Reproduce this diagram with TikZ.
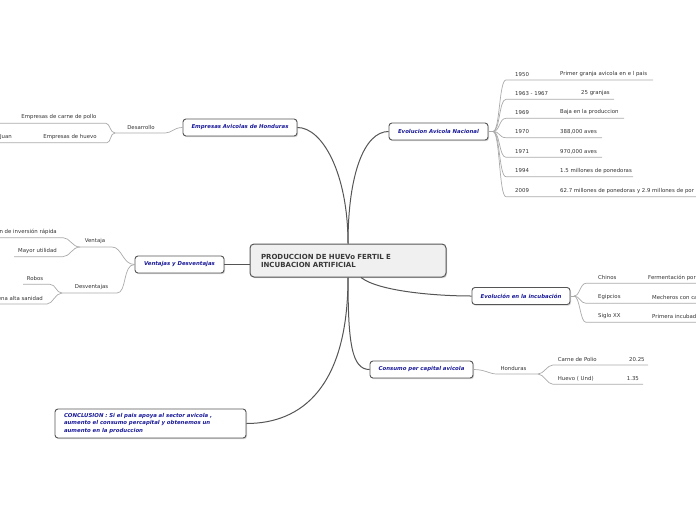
\documentclass[tikz,border=0pt]{standalone}
\usepackage{fontspec}
\setmainfont{DejaVu Sans}
\usetikzlibrary{shadows}
\definecolor{topicblue}{HTML}{1A1A99}
\definecolor{linkgray}{HTML}{555555}
\definecolor{subgray}{HTML}{AAAAAA}
\tikzset{
    central/.style={ % central idea
        draw=linkgray, line width=1pt, rounded corners=4pt,
        fill=gray!12, text=black!78,
        minimum width=196pt, minimum height=33pt,
        inner xsep=11pt, text width=174pt, align=left,
        font=\fontsize{7}{8}\selectfont\bfseries,
        drop shadow={shadow xshift=1pt, shadow yshift=-1.2pt, opacity=0.35}
    },
    topic/.style={ % main topics
        draw=linkgray, line width=0.9pt, rounded corners=3pt,
        fill=white, text=topicblue, minimum height=17pt, inner sep=2pt,
        font=\fontsize{5.4}{7.5}\selectfont\bfseries\itshape,
        drop shadow={shadow xshift=1pt, shadow yshift=-1.2pt, opacity=0.35}
    },
    leaf/.style={inner sep=0pt, text=black!80, font=\fontsize{5.4}{6.5}\selectfont},
    main link/.style={draw=linkgray, line width=1pt},
    sub link/.style={draw=subgray, line width=0.7pt}
}

\begin{document}
\begin{tikzpicture}[x=1pt,y=-1pt]
    \useasboundingbox (0,0) rectangle (696,520);

    % central idea and main topics
    \node[central] (cen) at (348,260.5) {PRODUCCION DE HUEVo FERTIL E\\INCUBACION ARTIFICIAL};
    \node[topic, minimum width=114pt] (emp) at (240,127.5) {Empresas Avicolas de Honduras};
    \node[topic, minimum width=99pt] (evo) at (438.5,131.5) {Evolucion Avicola Nacional};
    \node[topic, minimum width=89pt] (ven) at (179.5,264.5) {Ventajas y Desventajas};
    \node[topic, minimum width=98pt] (inc) at (521,296) {Evolución en la incubación};
    \node[topic, minimum width=103pt] (con) at (421.5,369.5) {Consumo per capital avicola};
    \node[topic, minimum width=191pt, minimum height=29pt, inner xsep=9pt,
          text width=173pt, align=left] (concl) at (150.5,423.5)
          {CONCLUSION : Si el pais apoya al sector avicola ,\\aumento el consumo percapital y obtenemos un\\aumento en la produccion};

    \draw[main link] (cen.north) .. controls +(0,-70) and +(25,0) .. (emp.east);
    \draw[main link] (cen.north) .. controls +(0,-70) and +(-24,0) .. (evo.west);
    \draw[main link] (ven.east) -- (ven.east -| cen.west);
    \draw[main link] ([xshift=13pt]cen.south) .. controls +(18,14) and +(-35,0) .. (inc.west);
    \draw[main link] (cen.south) .. controls +(0,65) and +(-18,0) .. (con.west);
    \draw[main link] (cen.south) .. controls +(0,110) and +(55,0) .. (concl.east);

    % Empresas Avicolas de Honduras
    \coordinate (des-r) at (165,133);
    \coordinate (des-l) at (115,133);
    \coordinate (carne) at (106,123.3);
    \coordinate (huevo) at (107,142.7);
    \draw[sub link] (emp.west) .. controls +(-9,0) and +(7,0) .. (des-r) -- (des-l);
    \draw[sub link] (des-l) .. controls +(-5,0) and +(4,0) .. (carne) -- (-5,123.3);
    \draw[sub link] (des-l) .. controls +(-5,0) and +(4,0) .. (huevo) -- (-5,142.7);
    \node[leaf] (des) at (141,127.2) {Desarrollo};
    \node[leaf] (carne-t) at (59,117.5) {Empresas de carne de pollo};
    \node[leaf] (huevo-t) at (70,137) {Empresas de huevo};
    \node[leaf, anchor=east] (juan) at (12,137) {Juan};

    % Evolucion Avicola Nacional
    \coordinate (evo-fan) at (493,131.5);
    \draw[sub link] (evo.east) -- (evo-fan);
    \foreach \ly/\yr/\xr/\xv/\val [count=\i] in {
        80/1950/653/560/Primer granja avicola en e l pais,
        99.3/1963 - 1967/614/581/25 granjas,
        118.3/1969/624/560/Baja en la produccion,
        137.7/1970/602/560/{388,000 aves},
        157.3/1971/602/560/{970,000 aves},
        176.7/1994/633/560/1.5 millones de ponedoras,
        196.7/2009/710/560/62.7 millones de ponedoras y 2.9 millones de por}{
        \coordinate (row\i) at (506,\ly);
        \draw[sub link] (evo-fan) .. controls +(7,0) and +(-7,0) .. (row\i) -- (\xr,\ly);
        \node[leaf, anchor=west] (year\i) at (515,\ly-5.8) {\yr};
        \node[leaf, anchor=west] (val\i) at (\xv,\ly-5.8) {\val};
    }

    % Evolucion en la incubacion
    \coordinate (inc-fan) at (574,296);
    \draw[sub link] (inc.east) -- (inc-fan);
    \foreach \ly/\who/\xv/\val [count=\i] in {
        283.3/Chinos/648/Fermentación por,
        303.3/Egipcios/652/Mecheros con ca,
        322.3/Siglo XX/652/Primera incubad}{
        \coordinate (step\i) at (586,\ly);
        \draw[sub link] (inc-fan) .. controls +(6,0) and +(-6,0) .. (step\i) -- (710,\ly);
        \node[leaf, anchor=west] (who\i) at (598,\ly-5.8) {\who};
        \node[leaf, anchor=west] (how\i) at (\xv,\ly-5.8) {\val};
    }

    % Consumo per capital avicola
    \coordinate (hon-l) at (497,374);
    \coordinate (hon-r) at (538,374);
    \coordinate (polio) at (553,365);
    \coordinate (und) at (553,384.3);
    \draw[sub link] (con.east) .. controls +(12,0) and +(-8,0) .. (hon-l) -- (hon-r);
    \draw[sub link] (hon-r) .. controls +(6,0) and +(-6,0) .. (polio) -- (648,365);
    \draw[sub link] (hon-r) .. controls +(6,0) and +(-6,0) .. (und) -- (643,384.3);
    \node[leaf] (hon) at (513.5,368.6) {Honduras};
    \node[leaf, anchor=west] (polio-t) at (557.7,359.6) {Carne de Polio};
    \node[leaf, anchor=west] (polio-v) at (629,359.6) {20.25};
    \node[leaf, anchor=west] (und-t) at (557.7,378.8) {Huevo ( Und)};
    \node[leaf, anchor=west] (und-v) at (626.7,378.8) {1.35};

    % Ventajas y Desventajas
    \coordinate (vta-r) at (112,247);
    \coordinate (vta-l) at (80,247);
    \coordinate (rapida) at (63,237.7);
    \coordinate (util) at (63,256.7);
    \coordinate (dvt-r) at (117,293);
    \coordinate (dvt-l) at (62,293);
    \coordinate (robos) at (50,284.3);
    \coordinate (sanidad) at (47,304);
    \draw[sub link] (ven.west) .. controls +(-12,0) and +(10,0) .. (vta-r) -- (vta-l);
    \draw[sub link] (vta-l) .. controls +(-8,0) and +(7,0) .. (rapida) -- (-5,237.7);
    \draw[sub link] (vta-l) .. controls +(-8,0) and +(7,0) .. (util) -- (14,256.7);
    \draw[sub link] (ven.west) .. controls +(-12,0) and +(10,0) .. (dvt-r) -- (dvt-l);
    \draw[sub link] (dvt-l) .. controls +(-6,0) and +(6,0) .. (robos) -- (23,284.3);
    \draw[sub link] (dvt-l) .. controls +(-7,0) and +(6,0) .. (sanidad) -- (-5,304);
    \node[leaf] (vta) at (95,241) {Ventaja};
    \node[leaf, anchor=east] (rapida-t) at (57,232) {n de inversión rápida};
    \node[leaf] (util-t) at (37.5,251) {Mayor utilidad};
    \node[leaf] (dvt) at (91.5,287.2) {Desventajas};
    \node[leaf] (robos-t) at (35,278.5) {Robos};
    \node[leaf, anchor=east] (sanidad-t) at (43,298.2) {ena alta sanidad};
\end{tikzpicture}
\end{document}
